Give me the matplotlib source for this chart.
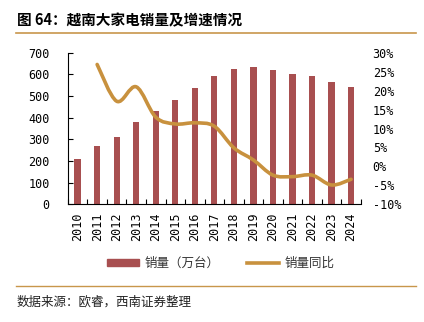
import matplotlib
matplotlib.use('Agg')
import matplotlib.pyplot as plt
from matplotlib.path import Path
from matplotlib.patches import PathPatch, Patch
from matplotlib.lines import Line2D
import numpy as np

plt.rcParams['font.family'] = ['Noto Sans CJK SC', 'DejaVu Sans']

years = ['2010', '2011', '2012', '2013', '2014', '2015', '2016', '2017',
         '2018', '2019', '2020', '2021', '2022', '2023', '2024']
sales = [208, 269, 313, 381, 431, 481, 536, 594, 625, 636, 619, 604, 593, 565, 542]
growth = [None, 26.9, 17.2, 21.0, 13.0, 11.2, 11.5, 10.6,
          4.9, 1.7, -2.3, -2.7, -2.3, -4.9, -3.4]

bar_color = '#A84F50'
line_color = '#C8913E'
rule_color = '#C8964B'
mono = ['DejaVu Sans Mono']

fig = plt.figure(figsize=(4.24, 3.22), dpi=100)
ax1 = fig.add_axes([0.160, 0.3655, 0.691, 0.4708])
ax2 = ax1.twinx()

x = np.arange(len(years))
ax1.bar(x, sales, width=0.32, color=bar_color, zorder=2)
ax1.set_ylim(0, 700)
ax1.set_yticks(range(0, 701, 100))
ax1.set_xlim(-0.5, len(years) - 0.5)
ax1.set_xticks(x)
ax1.set_xticklabels(years, rotation=90, family=mono, fontsize=8.5)
ax1.set_xticks(np.arange(-0.5, len(years)), minor=True)
ax1.tick_params(axis='x', which='major', length=0, pad=6)
ax1.tick_params(axis='x', which='minor', direction='in', length=3.5, width=0.8)
ax1.tick_params(axis='y', direction='in', length=3.5, width=0.8, pad=13)
for lab in ax1.get_yticklabels():
    lab.set_family(mono)
    lab.set_fontsize(8.5)

# smooth growth line (bezier through the yearly points)
gx = [i for i, g in enumerate(growth) if g is not None]
gy = [g for g in growth if g is not None]
pts = np.column_stack([gx, gy]).astype(float)
verts = [tuple(pts[0])]
codes = [Path.MOVETO]
n = len(pts)
for i in range(n - 1):
    p0 = pts[max(i - 1, 0)]
    p1 = pts[i]
    p2 = pts[i + 1]
    p3 = pts[min(i + 2, n - 1)]
    c1 = p1 + (p2 - p0) / 6
    c2 = p2 - (p3 - p1) / 6
    verts += [tuple(c1), tuple(c2), tuple(p2)]
    codes += [Path.CURVE4] * 3
ax2.add_patch(PathPatch(Path(verts, codes), facecolor='none', edgecolor=line_color,
                        lw=2.6, capstyle='round', joinstyle='round', zorder=3))
ax2.set_ylim(-10, 30)
ax2.set_yticks(range(-10, 31, 5))
ax2.set_yticklabels([f'{v}%' for v in range(-10, 31, 5)], family=mono, fontsize=8.5)
ax2.tick_params(axis='y', length=0, pad=8.5)

for ax in (ax1, ax2):
    ax.spines['top'].set_visible(False)
    ax.spines['right'].set_visible(False)
ax2.spines['left'].set_visible(False)
ax2.spines['bottom'].set_visible(False)
ax1.spines['left'].set_linewidth(0.8)
ax1.spines['bottom'].set_linewidth(0.8)

handles = [Patch(color=bar_color), Line2D([], [], color=line_color, lw=2.6)]
fig.legend(handles, ['销量（万台）', '销量同比'], loc='center', ncol=2,
           bbox_to_anchor=(0.52, 0.183), frameon=False, fontsize=9,
           handlelength=2.6, handleheight=0.5, columnspacing=2.2, handletextpad=0.4,
           labelcolor='#333333')

fig.text(0.040, 0.938, '图 64：越南大家电销量及增速情况', fontsize=10.5,
         fontweight='bold', va='center', ha='left')
fig.add_artist(Line2D([0.038, 0.981], [0.899, 0.899], color=rule_color, lw=1.2))
fig.add_artist(Line2D([0.038, 0.981], [0.112, 0.112], color=rule_color, lw=1.0))
fig.text(0.040, 0.062, '数据来源：欧睿，西南证券整理', fontsize=9, style='italic',
         va='center', ha='left', color='#222222')

fig.savefig('out.png', dpi=100)
